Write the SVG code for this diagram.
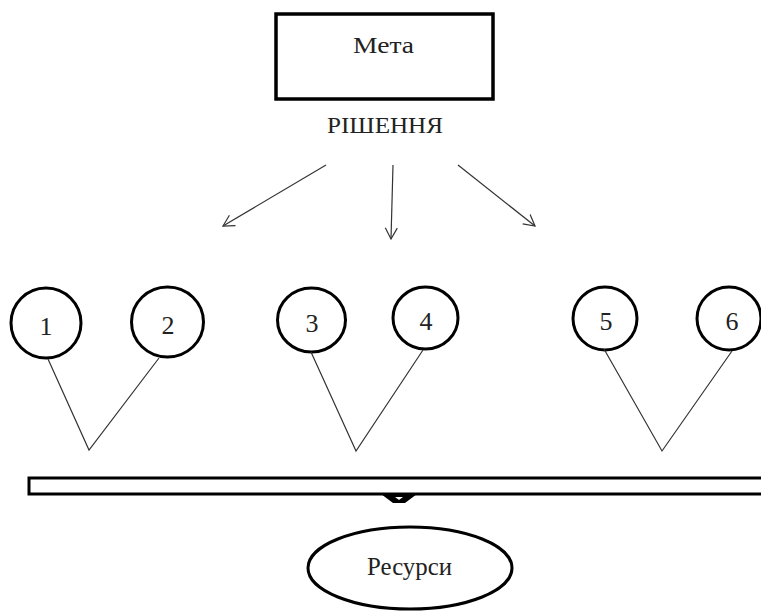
<svg xmlns="http://www.w3.org/2000/svg" width="761" height="612" viewBox="0 0 761 612">
<style>
.t{font-family:"Liberation Serif","DejaVu Serif",serif;fill:#222;text-anchor:middle}
.c{fill:#fff;stroke:#000;stroke-width:3}
.l{stroke:#333;stroke-width:1.2;fill:none}
</style>
<defs>
<marker id="a" markerWidth="14" markerHeight="14" refX="12" refY="7" orient="auto" markerUnits="userSpaceOnUse">
<path d="M1,1 L12,7 L1,13" fill="none" stroke="#333" stroke-width="1.2"/>
</marker>
</defs>
<rect width="761" height="612" fill="#fff"/>
<g id="goal">
<rect x="276" y="14" width="217" height="85" fill="#fff" stroke="#000" stroke-width="3.5"/>
<text class="t" x="383.5" y="53" font-size="24" textLength="61" lengthAdjust="spacingAndGlyphs">Мета</text>
</g>
<g id="decision">
<text class="t" x="385" y="133" font-size="24" textLength="116" lengthAdjust="spacingAndGlyphs">РІШЕННЯ</text>
</g>
<g id="n1"><ellipse class="c" cx="46" cy="323" rx="35" ry="35"/><text class="t" x="46" y="335" font-size="26">1</text></g>
<g id="n2"><ellipse class="c" cx="167.5" cy="322" rx="36" ry="35"/><text class="t" x="168" y="334" font-size="26">2</text></g>
<g id="n3"><ellipse class="c" cx="311.5" cy="320" rx="34" ry="32"/><text class="t" x="312" y="332" font-size="26">3</text></g>
<g id="n4"><ellipse class="c" cx="425.5" cy="318" rx="32.5" ry="31"/><text class="t" x="426" y="330" font-size="26">4</text></g>
<g id="n5"><ellipse class="c" cx="605" cy="318.5" rx="32" ry="31.5"/><text class="t" x="606" y="330" font-size="26">5</text></g>
<g id="n6"><ellipse class="c" cx="729" cy="318.5" rx="32" ry="31.5"/><text class="t" x="732" y="330" font-size="26">6</text></g>
<g id="bar">
<rect x="29" y="478" width="740" height="16" fill="#fff" stroke="#000" stroke-width="3"/>
<path d="M381,494 L417,494 L405,503 L393,503 Z" fill="#000"/>
<path d="M395,497 L403,497 L399,500 Z" fill="#fff"/>
</g>
<g id="resources">
<ellipse cx="410" cy="568" rx="102" ry="41" fill="#fff" stroke="#000" stroke-width="3"/>
<text class="t" x="409.5" y="575" font-size="25" textLength="85" lengthAdjust="spacingAndGlyphs">Ресурси</text>
</g>
<g id="connectors">
<line class="l" x1="326" y1="165" x2="223" y2="226" marker-end="url(#a)"/>
<line class="l" x1="393" y1="165" x2="391" y2="239" marker-end="url(#a)"/>
<line class="l" x1="458" y1="165" x2="535" y2="226" marker-end="url(#a)"/>
<polyline class="l" points="48,359 89,450 159,358"/>
<polyline class="l" points="311,352 356,451 423,350"/>
<polyline class="l" points="604,349 662,451 732,351"/>
</g>
</svg>
